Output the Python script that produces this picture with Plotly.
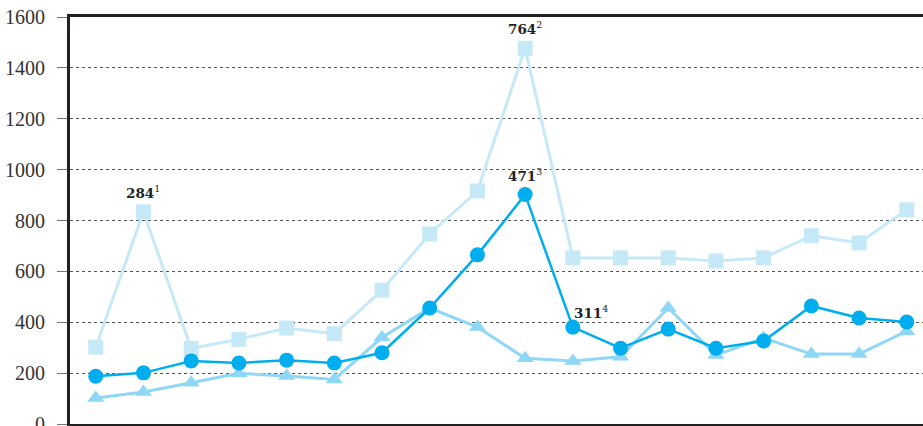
import plotly.graph_objects as go

# 18 periods (x labels are not shown in the reference)
periods = [1, 2, 3, 4, 5, 6, 7, 8, 9, 10, 11, 12, 13, 14, 15, 16, 17, 18]

squares = [302, 834, 297, 333, 377, 355, 526, 747, 916, 1477, 653, 653, 653, 641, 653, 740, 712, 842]
circles = [188, 201, 248, 240, 251, 240, 280, 456, 665, 902, 381, 298, 373, 298, 326, 464, 417, 401]
triangles = [102, 126, 162, 199, 189, 175, 340, 456, 381, 258, 248, 264, 456, 271, 338, 275, 275, 365]

y_ticks = [0, 200, 400, 600, 800, 1000, 1200, 1400, 1600]

# callouts: (series, period, label, footnote)
callouts = [
    ("squares", 2, "284", "1"),
    ("squares", 10, "764", "2"),
    ("circles", 10, "471", "3"),
    ("circles", 11, "311", "4"),
]

SQ_COLOR = "#c6e9f8"
CI_COLOR = "#00aeef"
TR_COLOR = "#8fd7f7"

fig = go.Figure()
fig.add_trace(go.Scatter(
    x=periods, y=squares, mode="lines+markers",
    line=dict(color=SQ_COLOR, width=3),
    marker=dict(symbol="square", size=15, color=SQ_COLOR),
))
fig.add_trace(go.Scatter(
    x=periods, y=triangles, mode="lines+markers",
    line=dict(color=TR_COLOR, width=3),
    marker=dict(symbol="triangle-up", size=15, color=TR_COLOR),
))
fig.add_trace(go.Scatter(
    x=periods, y=circles, mode="lines+markers",
    line=dict(color=CI_COLOR, width=2.5),
    marker=dict(symbol="circle", size=15, color=CI_COLOR),
))

series = {"squares": squares, "circles": circles}
for name, p, label, note in callouts:
    val = series[name][periods.index(p)]
    shift = (18, 4) if label == "311" else (0, 9)
    fig.add_annotation(
        x=p, y=val, xref="x", yref="y", showarrow=False,
        text=f"<b>{label}</b><sup>{note}</sup>",
        font=dict(family="DejaVu Serif", size=13.5, color="#222"),
        yanchor="bottom", xshift=shift[0], yshift=shift[1],
    )

fig.update_layout(
    width=923, height=426,
    margin=dict(l=70, r=0, t=17, b=2),
    paper_bgcolor="white", plot_bgcolor="white",
    showlegend=False,
    xaxis=dict(
        range=[0.46, 18.34], showgrid=False, zeroline=False,
        showticklabels=False, ticks="", automargin=False,
        showline=True, linecolor="#231f20", linewidth=3, mirror=True,
    ),
    yaxis=dict(
        range=[0, 1600], tickvals=y_ticks, zeroline=False, automargin=False,
        showgrid=True, gridcolor="#555", gridwidth=1, griddash="3px,3px",
        showline=True, linecolor="#231f20", linewidth=3,
        ticks="outside", ticklen=10, tickcolor="#777", tickwidth=1,
        ticklabelstandoff=8, ticklabeloverflow="allow",
        tickfont=dict(family="Liberation Serif", size=20, color="#333"),
    ),
)

# drop the default body margin so the chart sits at the window's corner
fig.write_html(
    "out.html",
    config={"displayModeBar": False},
    post_script="document.body.style.margin='0';",
)
